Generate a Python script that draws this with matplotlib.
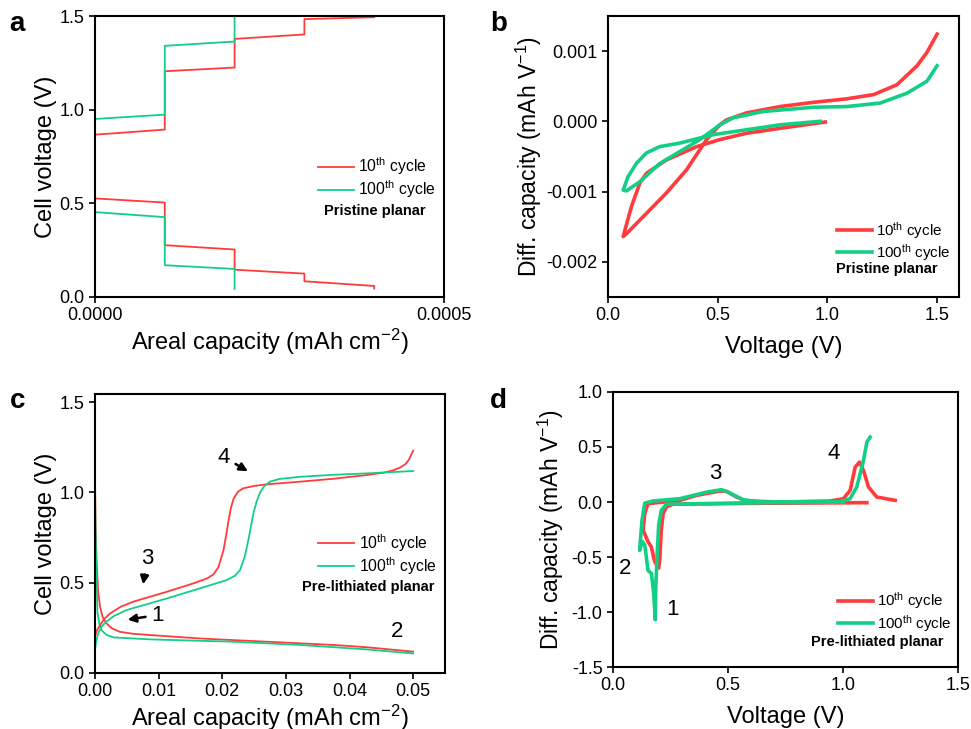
import matplotlib
matplotlib.use("Agg")
import matplotlib.pyplot as plt
import numpy as np

plt.rcParams['font.family'] = ['Liberation Sans', 'DejaVu Sans']
plt.rcParams['mathtext.fontset'] = 'custom'
plt.rcParams['mathtext.rm'] = 'Liberation Sans'
plt.rcParams['mathtext.default'] = 'regular'

RED = '#FF3B3B'
GREEN = '#13CF86'

# ---- panel a: pristine planar, voltage profile ----
a_red_x = [0, 0, 0.0001, 0.0001, 0.0002, 0.0002, 0.0003, 0.0003, 0.0004, 0.0004,
           None, 0, 0, 0.0001, 0.0001, 0.0002, 0.0002, 0.0003, 0.0003, 0.0004]
a_red_y = [0.98, 0.527, 0.505, 0.277, 0.254, 0.146, 0.125, 0.084, 0.059, 0.045,
           None, 0.06, 0.868, 0.895, 1.207, 1.227, 1.380, 1.404, 1.486, 1.496]
a_green_x = [0, 0, 0.0001, 0.0001, 0.0002, 0.0002,
             None, 0, 0, 0.0001, 0.0001, 0.0002, 0.0002]
a_green_y = [1.0, 0.454, 0.427, 0.170, 0.150, 0.043,
             None, 0.04, 0.952, 0.975, 1.343, 1.366, 1.5]

# ---- panel b: pristine planar, dQ/dV ----
b_red_x = [0.99, 0.784, 0.632, 0.51, 0.404, 0.266, 0.175, 0.145, 0.107, 0.069,
           0.084, 0.175, 0.266, 0.358, 0.449, 0.51, 0.54, 0.632, 0.784, 0.937,
           1.089, 1.211, 1.317, 1.409, 1.454, 1.5]
b_red_y = [-0.00001, -0.0001, -0.00017, -0.00026, -0.00036, -0.00055, -0.00074,
           -0.00088, -0.00121, -0.00164,
           -0.0016, -0.00131, -0.00102, -0.00069, -0.00026, -0.00005, 0.00002,
           0.00012, 0.00021, 0.00027, 0.00032, 0.00038, 0.00052, 0.00079,
           0.00098, 0.00124]
b_green_x = [0.967, 0.784, 0.632, 0.48, 0.327, 0.236, 0.175, 0.129, 0.091, 0.069,
             0.084, 0.145, 0.236, 0.327, 0.419, 0.51, 0.571, 0.708, 0.937, 1.089,
             1.241, 1.363, 1.454, 1.5]
b_green_y = [0.0, -0.00005, -0.00012, -0.00019, -0.00031, -0.00036, -0.00045,
             -0.0006, -0.00079, -0.00098,
             -0.00099, -0.00086, -0.0006, -0.00043, -0.00026, -0.00005, 0.00005,
             0.00014, 0.0002, 0.00021, 0.00026, 0.0004, 0.00057, 0.00079]

# ---- panel c: pre-lithiated planar, voltage profile ----
c_red_dis_x = [0, 0.0001, 0.0002, 0.0003, 0.0005, 0.0008, 0.0012, 0.0018, 0.0027,
               0.0039, 0.006, 0.0087, 0.0165, 0.027, 0.0375, 0.0428, 0.05]
c_red_dis_y = [1.1, 0.81, 0.68, 0.59, 0.45, 0.366, 0.31, 0.274, 0.245, 0.227,
               0.216, 0.209, 0.19, 0.172, 0.154, 0.141, 0.117]
c_red_ch_x = [0, 0.0003, 0.0008, 0.0015, 0.0024, 0.004, 0.006, 0.0113, 0.0155,
              0.0176, 0.0186, 0.0194, 0.0202, 0.0206, 0.021, 0.0214, 0.0218,
              0.0225, 0.0233, 0.025, 0.027, 0.0323, 0.0375, 0.0428, 0.0454,
              0.0468, 0.048, 0.0488, 0.0493, 0.05]
c_red_ch_y = [0.2, 0.235, 0.264, 0.3, 0.329, 0.365, 0.394, 0.449, 0.496, 0.523,
              0.545, 0.585, 0.68, 0.76, 0.847, 0.92, 0.967, 1.005, 1.023, 1.036,
              1.045, 1.06, 1.076, 1.097, 1.11, 1.122, 1.139, 1.158, 1.18, 1.232]
c_green_dis_x = [0, 0.0001, 0.0002, 0.0004, 0.0007, 0.001, 0.0018, 0.0029, 0.0087,
                 0.0218, 0.0323, 0.0428, 0.05]
c_green_dis_y = [0.995, 0.78, 0.59, 0.33, 0.27, 0.237, 0.21, 0.196, 0.185, 0.172,
                 0.154, 0.129, 0.107]
c_green_ch_x = [0, 0.0002, 0.0005, 0.001, 0.0018, 0.003, 0.005, 0.0113, 0.0165,
                0.0207, 0.022, 0.0228, 0.0235, 0.0241, 0.0245, 0.0249, 0.0254,
                0.026, 0.0266, 0.0275, 0.029, 0.0323, 0.0375, 0.0428, 0.05]
c_green_ch_y = [0.126, 0.175, 0.218, 0.255, 0.283, 0.315, 0.348, 0.412, 0.468,
                0.514, 0.538, 0.57, 0.64, 0.736, 0.81, 0.884, 0.95, 1.004, 1.035,
                1.06, 1.075, 1.087, 1.098, 1.106, 1.119]

# ---- panel d: pre-lithiated planar, dQ/dV ----
d_red_x = [1.104, 0.6, 0.26, 0.232, 0.218, 0.21, 0.203, 0.199, 0.181, 0.167,
           0.152, 0.138, 0.131, 0.138, 0.152,
           0.29, 0.363, 0.465, 0.494, 0.537, 0.581, 0.726, 0.944, 1.002, 1.031,
           1.053, 1.072, 1.089, 1.111, 1.147, 1.227]
d_red_y = [-0.006, -0.012, -0.02, -0.045, -0.106, -0.257, -0.53, -0.6, -0.54,
           -0.41, -0.36, -0.29, -0.257, -0.106, -0.015,
           0.015, 0.06, 0.1, 0.097, 0.045, 0.009, 0.0, 0.009, 0.03, 0.106,
           0.317, 0.363, 0.287, 0.136, 0.045, 0.015]
d_green_x = [1.002, 0.6, 0.232, 0.21, 0.199, 0.192, 0.186, 0.184, 0.177, 0.167,
             0.152, 0.145, 0.138, 0.128, 0.12, 0.116, 0.119, 0.126, 0.138,
             0.174, 0.29, 0.407, 0.472, 0.501, 0.566, 0.653, 0.987, 1.031, 1.06,
             1.089, 1.104, 1.118]
d_green_y = [0.0, -0.008, -0.02, -0.076, -0.2, -0.47, -0.77, -1.07, -0.83, -0.65,
             -0.62, -0.5, -0.39, -0.36, -0.41, -0.44, -0.35, -0.17, -0.01,
             0.009, 0.03, 0.09, 0.112, 0.09, 0.02, 0.0, 0.0, 0.03, 0.136,
             0.378, 0.544, 0.59]


def clean(ax):
    for s in ax.spines.values():
        s.set_linewidth(1.5)
    ax.tick_params(direction='out', length=4, width=1.2, labelsize=13)


def add_legend(ax, x0, y0, name, name_x, name_y, size):
    ax.legend(loc='upper left', bbox_to_anchor=(x0, y0), frameon=False,
              fontsize=size, handlelength=2.3, handletextpad=0.3,
              labelspacing=0.1, borderpad=0, borderaxespad=0)
    ax.text(name_x, name_y, name, transform=ax.transAxes, ha='right',
            va='center', fontsize=10.5, fontweight='bold')


fig = plt.figure(figsize=(9.71, 7.29), dpi=100)

ax_a = fig.add_axes([0.0978, 0.5926, 0.3595, 0.3848])
ax_a.plot(a_red_x, a_red_y, color=RED, lw=1.3, label='10$^{th}$ cycle')
ax_a.plot(a_green_x, a_green_y, color=GREEN, lw=1.3, label='100$^{th}$ cycle')
ax_a.set_xlim(0, 0.0005)
ax_a.set_ylim(0, 1.5)
ax_a.set_xticks([0, 0.0005])
ax_a.set_xticklabels(['0.0000', '0.0005'])
ax_a.set_yticks([0, 0.5, 1.0, 1.5])
ax_a.set_yticklabels(['0.0', '0.5', '1.0', '1.5'])
ax_a.set_xlabel('Areal capacity (mAh cm$^{-2}$)', fontsize=17, labelpad=2)
ax_a.set_ylabel('Cell voltage (V)', fontsize=17, labelpad=2)
clean(ax_a)
add_legend(ax_a, 0.638, 0.505, 'Pristine planar', 0.946, 0.307, 11.3)

ax_b = fig.add_axes([0.6262, 0.5926, 0.3614, 0.3856])
ax_b.plot(b_red_x, b_red_y, color=RED, lw=2.6, label='10$^{th}$ cycle')
ax_b.plot(b_green_x, b_green_y, color=GREEN, lw=2.6, label='100$^{th}$ cycle')
ax_b.set_xlim(0, 1.6)
ax_b.set_ylim(-0.0025, 0.0015)
ax_b.set_xticks([0, 0.5, 1.0, 1.5])
ax_b.set_xticklabels(['0.0', '0.5', '1.0', '1.5'])
ax_b.set_yticks([-0.002, -0.001, 0, 0.001])
ax_b.set_yticklabels(['-0.002', '-0.001', '0.000', '0.001'])
ax_b.set_xlabel('Voltage (V)', fontsize=17, labelpad=8)
ax_b.set_ylabel('Diff. capacity (mAh V$^{-1}$)', fontsize=16.5, labelpad=2)
clean(ax_b)
add_legend(ax_b, 0.652, 0.275, 'Pristine planar', 0.94, 0.100, 10.9)

ax_c = fig.add_axes([0.0978, 0.0772, 0.3605, 0.3823])
ax_c.plot(c_red_dis_x, c_red_dis_y, color=RED, lw=1.3, label='10$^{th}$ cycle')
ax_c.plot(c_green_dis_x, c_green_dis_y, color=GREEN, lw=1.3, label='100$^{th}$ cycle')
ax_c.plot(c_red_ch_x, c_red_ch_y, color=RED, lw=1.3)
ax_c.plot(c_green_ch_x, c_green_ch_y, color=GREEN, lw=1.3)
ax_c.set_xlim(0, 0.055)
ax_c.set_ylim(0, 1.546)
ax_c.set_xticks([0, 0.01, 0.02, 0.03, 0.04, 0.05])
ax_c.set_xticklabels(['0.00', '0.01', '0.02', '0.03', '0.04', '0.05'])
ax_c.set_yticks([0, 0.5, 1.0, 1.5])
ax_c.set_yticklabels(['0.0', '0.5', '1.0', '1.5'])
ax_c.set_xlabel('Areal capacity (mAh cm$^{-2}$)', fontsize=17, labelpad=2)
ax_c.set_ylabel('Cell voltage (V)', fontsize=17, labelpad=2)
clean(ax_c)
add_legend(ax_c, 0.638, 0.505, 'Pre-lithiated planar', 0.971, 0.308, 11.3)
arrow = dict(arrowstyle='-|>', color='black', lw=1.8, mutation_scale=12)
ax_c.annotate('4', xy=(0.0244, 1.11), xytext=(0.0203, 1.195), fontsize=16,
              ha='center', va='center', arrowprops=arrow)
ax_c.annotate('3', xy=(0.0075, 0.475), xytext=(0.0082, 0.634), fontsize=16,
              ha='center', va='center', arrowprops=arrow)
ax_c.annotate('1', xy=(0.0047, 0.292), xytext=(0.0098, 0.32), fontsize=16,
              ha='center', va='center', arrowprops=arrow)
ax_c.text(0.0475, 0.227, '2', fontsize=16, ha='center', va='center')

ax_d = fig.add_axes([0.6313, 0.085, 0.3553, 0.3773])
ax_d.plot(d_red_x, d_red_y, color=RED, lw=2.6, label='10$^{th}$ cycle')
ax_d.plot(d_green_x, d_green_y, color=GREEN, lw=2.6, label='100$^{th}$ cycle')
ax_d.set_xlim(0, 1.5)
ax_d.set_ylim(-1.5, 1.0)
ax_d.set_xticks([0, 0.5, 1.0, 1.5])
ax_d.set_xticklabels(['0.0', '0.5', '1.0', '1.5'])
ax_d.set_yticks([-1.5, -1.0, -0.5, 0, 0.5, 1.0])
ax_d.set_yticklabels(['-1.5', '-1.0', '-0.5', '0.0', '0.5', '1.0'])
ax_d.set_xlabel('Voltage (V)', fontsize=17, labelpad=8)
ax_d.set_ylabel('Diff. capacity (mAh V$^{-1}$)', fontsize=16.5, labelpad=4)
clean(ax_d)
add_legend(ax_d, 0.652, 0.278, 'Pre-lithiated planar', 0.959, 0.091, 10.9)
ax_d.text(0.961, 0.444, '4', fontsize=16, ha='center', va='center')
ax_d.text(0.443, 0.263, '3', fontsize=16, ha='center', va='center')
ax_d.text(0.054, -0.605, '2', fontsize=16, ha='center', va='center')
ax_d.text(0.257, -0.976, '1', fontsize=16, ha='center', va='center')

for x, y, s in [(0.01, 0.985, 'a'), (0.505, 0.985, 'b'),
                (0.01, 0.468, 'c'), (0.505, 0.468, 'd')]:
    fig.text(x, y, s, fontsize=20, fontweight='bold', va='top')

fig.savefig('out.png', dpi=100)
